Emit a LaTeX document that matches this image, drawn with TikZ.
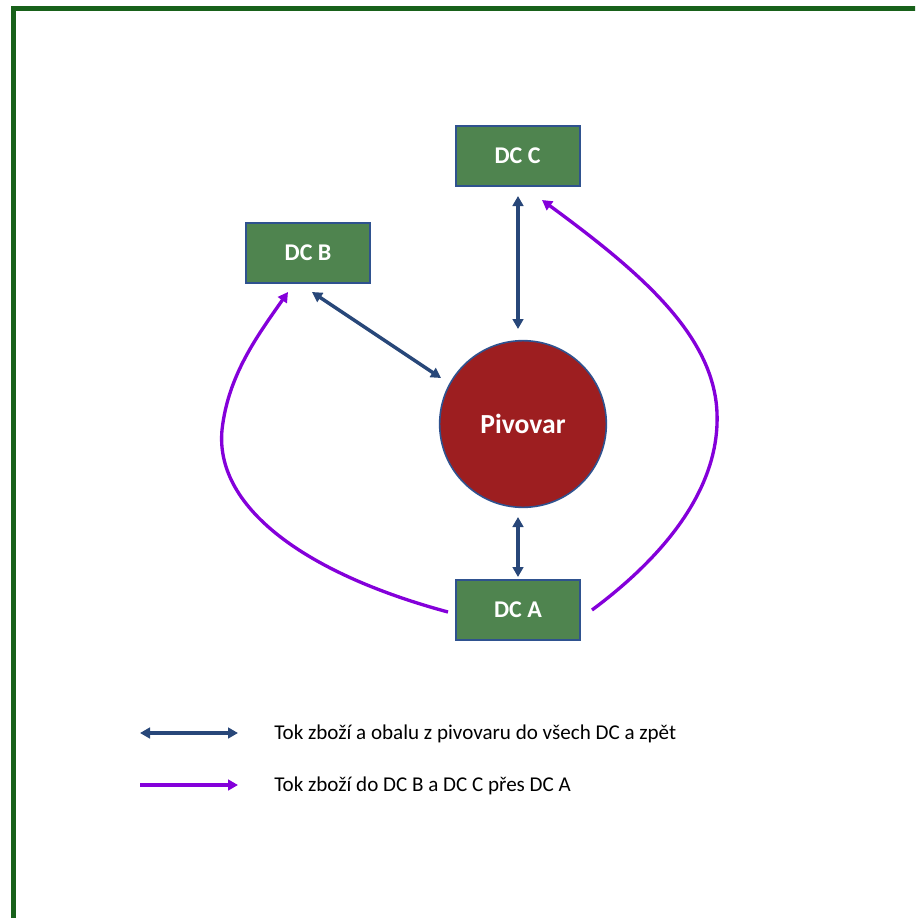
\documentclass[tikz,border=0pt]{standalone}
\usepackage{fontspec}
\setmainfont{Carlito}
\usetikzlibrary{arrows.meta}
\definecolor{framegreen}{HTML}{18611A}
\definecolor{boxgreen}{HTML}{4F844F}
\definecolor{edgeblue}{HTML}{2F528F}
\definecolor{brewred}{HTML}{9D1E20}
\definecolor{flowblue}{HTML}{284779}
\definecolor{flowpurple}{HTML}{8400DA}
\tikzset{
  dcbox/.style={draw=edgeblue, line width=1.5pt, fill=boxgreen, minimum width=93pt, minimum height=45pt,
    inner sep=0pt, text=white, font=\fontsize{18}{21}\selectfont\bfseries},
  brewery/.style={circle, draw=edgeblue, line width=1.2pt, fill=brewred, minimum size=125pt, inner sep=0pt,
    text=white, font=\fontsize{20.7}{24}\selectfont\bfseries},
  twoway/.style={draw=flowblue, line width=2.6pt, {Triangle[length=7.5pt,width=8pt]}-{Triangle[length=7.5pt,width=8pt]}},
  oneway/.style={draw=flowpurple, line width=2.5pt, -{Triangle[length=7.5pt,width=8pt]}},
  legendtext/.style={anchor=west, inner sep=0pt, font=\fontsize{15.8}{19}\selectfont}
}
\begin{document}
\begin{tikzpicture}[x=0.75pt, y=-0.75pt]
  \useasboundingbox (0,0) rectangle (915,918);
  \begin{scope}
    \clip (0,0) rectangle (915,918);
    \draw[framegreen, line width=3.75pt] (13.5,8.5) rectangle (960,960);
  \end{scope}

  % distribution centres and the brewery
  \node[dcbox] (dcc) at (517.5,156) {DC C};
  \node[dcbox] (dcb) at (308,253) {DC B};
  \node[dcbox] (dca) at (518,610) {DC A};
  \node[brewery] (pivovar) at (523,424) {Pivovar};

  % two-way flows between the brewery and each DC
  \coordinate (c1) at (518,196);
  \coordinate (c2) at (518,329);
  \draw[twoway] (c1) -- (c2);
  \coordinate (b1) at (312,292);
  \coordinate (b2) at (441,378);
  \draw[twoway] (b1) -- (b2);
  \coordinate (a1) at (518,517);
  \coordinate (a2) at (518,577);
  \draw[twoway] (a1) -- (a2);

  % flows from DC A on to DC B and DC C
  \coordinate (aleft) at (448,612);
  \coordinate (bin) at (288,292);
  \draw[oneway] (aleft) .. controls (300,572) and (215,505) .. (222,430)
                        .. controls (228,375) and (258,335) .. (bin);
  \coordinate (aright) at (592,610);
  \coordinate (cin) at (542,200);
  \draw[oneway] (aright) .. controls (662,558) and (720,490) .. (717,413)
                         .. controls (714,335) and (640,272) .. (cin);

  % legend
  \coordinate (l1s) at (140,733);
  \coordinate (l1e) at (238,733);
  \draw[twoway] (l1s) -- (l1e);
  \node[legendtext] (l1) at (274,734) {Tok zboží a obalu z pivovaru do všech DC a zpět};
  \coordinate (l2s) at (140,785);
  \coordinate (l2e) at (238,785);
  \draw[oneway] (l2s) -- (l2e);
  \node[legendtext] (l2) at (274,786) {Tok zboží do DC B a DC C přes DC A};
\end{tikzpicture}
\end{document}
